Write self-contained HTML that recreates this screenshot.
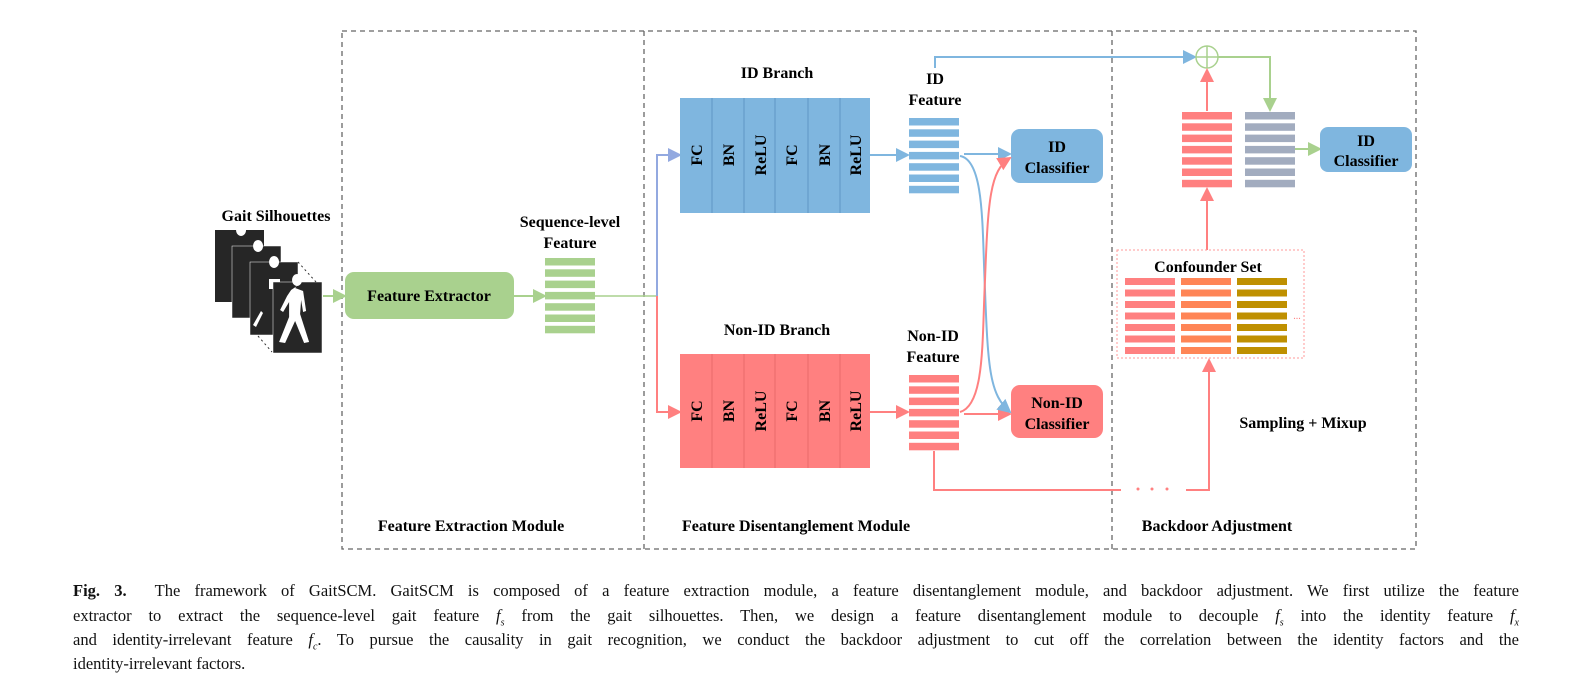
<!DOCTYPE html>
<html><head><meta charset="utf-8"><style>
body{margin:0;background:#fff;width:1593px;height:685px;overflow:hidden;position:relative}
svg{position:absolute;left:0;top:0}
.cap{position:absolute;left:73px;width:1446px;font-family:"Liberation Serif",serif;font-size:16.5px;color:#111;text-align:justify;text-align-last:justify;white-space:nowrap;line-height:20px}
.cap.last{text-align-last:left}
</style></head><body>
<svg width="1593" height="685" viewBox="0 0 1593 685" font-family="Liberation Serif, serif" font-weight="bold">
<defs>
<marker id="ar" markerWidth="14" markerHeight="14" refX="12" refY="7" orient="auto" markerUnits="userSpaceOnUse"><path d="M0,0 L14,7 L0,14z" fill="#ff8080"/></marker>
<marker id="abl" markerWidth="14" markerHeight="14" refX="12" refY="7" orient="auto" markerUnits="userSpaceOnUse"><path d="M0,0 L14,7 L0,14z" fill="#7fb6df"/></marker>
<marker id="ag" markerWidth="14" markerHeight="14" refX="12" refY="7" orient="auto" markerUnits="userSpaceOnUse"><path d="M0,0 L14,7 L0,14z" fill="#a9d18e"/></marker>
<marker id="ap" markerWidth="14" markerHeight="14" refX="12" refY="7" orient="auto" markerUnits="userSpaceOnUse"><path d="M0,0 L14,7 L0,14z" fill="#93a9e0"/></marker>
</defs>
<rect x="342" y="31" width="1074" height="518" fill="none" stroke="#666" stroke-width="1.3" stroke-dasharray="5,4"/>
<line x1="644" y1="31" x2="644" y2="549" stroke="#666" stroke-width="1.3" stroke-dasharray="5,4"/>
<line x1="1112" y1="31" x2="1112" y2="549" stroke="#666" stroke-width="1.3" stroke-dasharray="5,4"/>

<g>
<rect x="215" y="230" width="49" height="72" fill="#262626"/>
<path d="M241,236 a5,6 0 1,1 0.1,0 M236,247 h11 v10 h-11z" fill="#fff"/>
<rect x="232" y="246" width="49" height="72" fill="#262626" stroke="#fff" stroke-width="0.5"/>
<path d="M258,252 a5,6 0 1,1 0.1,0 M253,263 h11 v10 h-11z" fill="#fff"/>
<rect x="250" y="262" width="48" height="73" fill="#262626" stroke="#fff" stroke-width="0.5"/>
<path d="M274,268 a5,6 0 1,1 0.1,0 M269,279 h11 v10 h-11z M253,325 l8,-14 l2,2 l-7,14z" fill="#fff"/>
<rect x="273" y="282" width="49" height="71" fill="#262626" stroke="#fff" stroke-width="0.5"/>
<path d="M297,286 a5,6 0 1,1 0.1,0 l-2,2 l8,3 l3,20 l-3,1 l-2,-12 l-1,14 l9,28 l-5,1 l-9,-22 l-10,22 l-6,-1 l10,-25 l0,-15 l-6,10 l-3,-2 l7,-14 l4,-6z" fill="#fff"/>
<path d="M298,262 l18,20 M258,336 l14,16" stroke="#333" stroke-dasharray="2,3"/>
</g>
<text x="276" y="221" font-size="16" text-anchor="middle">Gait Silhouettes</text>
<line x1="323" y1="296" x2="345" y2="296" stroke="#a9d18e" stroke-width="2" marker-end="url(#ag)"/>
<rect x="345" y="272" width="169" height="47" rx="9" fill="#a9d18e"/>
<text x="429" y="301" font-size="16" text-anchor="middle">Feature Extractor</text>
<line x1="514" y1="296" x2="545" y2="296" stroke="#a9d18e" stroke-width="2" marker-end="url(#ag)"/>
<text x="570" y="227" font-size="16" text-anchor="middle">Sequence-level</text>
<text x="570" y="248" font-size="16" text-anchor="middle">Feature</text>
<g fill="#a9d18e">
<rect x="545" y="258" width="50" height="7.5"/><rect x="545" y="269.3" width="50" height="7.5"/><rect x="545" y="280.6" width="50" height="7.5"/><rect x="545" y="291.9" width="50" height="7.5"/><rect x="545" y="303.2" width="50" height="7.5"/><rect x="545" y="314.5" width="50" height="7.5"/><rect x="545" y="325.8" width="50" height="7.5"/>
</g>
<line x1="595" y1="296" x2="657" y2="296" stroke="#a9d18e" stroke-width="1.5"/>
<polyline points="657,296 657,155 680,155" fill="none" stroke="#93a9e0" stroke-width="2" marker-end="url(#ap)"/>
<polyline points="657,296 657,412 680,412" fill="none" stroke="#ff8080" stroke-width="2" marker-end="url(#ar)"/>

<text x="777" y="78" font-size="16" text-anchor="middle">ID Branch</text>
<rect x="680" y="98" width="190" height="115" fill="#7fb6df"/>
<g stroke="#5f97c4" stroke-width="1"><line x1="712" y1="98" x2="712" y2="213"/><line x1="744" y1="98" x2="744" y2="213"/><line x1="775" y1="98" x2="775" y2="213"/><line x1="808" y1="98" x2="808" y2="213"/><line x1="840" y1="98" x2="840" y2="213"/></g>
<g font-size="16" text-anchor="middle">
<text transform="translate(702,155) rotate(-90)">FC</text><text transform="translate(734,155) rotate(-90)">BN</text><text transform="translate(766,155) rotate(-90)">ReLU</text><text transform="translate(797,155) rotate(-90)">FC</text><text transform="translate(830,155) rotate(-90)">BN</text><text transform="translate(861,155) rotate(-90)">ReLU</text>
</g>
<text x="777" y="335" font-size="16" text-anchor="middle">Non-ID Branch</text>
<rect x="680" y="354" width="190" height="114" fill="#ff8080"/>
<g stroke="#e86a6a" stroke-width="1"><line x1="712" y1="354" x2="712" y2="468"/><line x1="744" y1="354" x2="744" y2="468"/><line x1="775" y1="354" x2="775" y2="468"/><line x1="808" y1="354" x2="808" y2="468"/><line x1="840" y1="354" x2="840" y2="468"/></g>
<g font-size="16" text-anchor="middle">
<text transform="translate(702,411) rotate(-90)">FC</text><text transform="translate(734,411) rotate(-90)">BN</text><text transform="translate(766,411) rotate(-90)">ReLU</text><text transform="translate(797,411) rotate(-90)">FC</text><text transform="translate(830,411) rotate(-90)">BN</text><text transform="translate(861,411) rotate(-90)">ReLU</text>
</g>
<line x1="870" y1="155" x2="908" y2="155" stroke="#7fb6df" stroke-width="2" marker-end="url(#abl)"/>
<line x1="870" y1="412" x2="908" y2="412" stroke="#ff8080" stroke-width="2" marker-end="url(#ar)"/>

<text x="935" y="84" font-size="16" text-anchor="middle">ID</text>
<text x="935" y="105" font-size="16" text-anchor="middle">Feature</text>
<g fill="#7fb6df">
<rect x="909" y="118" width="50" height="7.5"/><rect x="909" y="129.3" width="50" height="7.5"/><rect x="909" y="140.6" width="50" height="7.5"/><rect x="909" y="151.9" width="50" height="7.5"/><rect x="909" y="163.2" width="50" height="7.5"/><rect x="909" y="174.5" width="50" height="7.5"/><rect x="909" y="185.8" width="50" height="7.5"/>
</g>
<text x="933" y="341" font-size="16" text-anchor="middle">Non-ID</text>
<text x="933" y="362" font-size="16" text-anchor="middle">Feature</text>
<g fill="#ff8080">
<rect x="909" y="375" width="50" height="7.5"/><rect x="909" y="386.3" width="50" height="7.5"/><rect x="909" y="397.6" width="50" height="7.5"/><rect x="909" y="408.9" width="50" height="7.5"/><rect x="909" y="420.2" width="50" height="7.5"/><rect x="909" y="431.5" width="50" height="7.5"/><rect x="909" y="442.8" width="50" height="7.5"/>
</g>
<rect x="1011" y="129" width="92" height="54" rx="9" fill="#7fb6df"/>
<text x="1057" y="152" font-size="16" text-anchor="middle">ID</text>
<text x="1057" y="173" font-size="16" text-anchor="middle">Classifier</text>
<rect x="1011" y="385" width="92" height="53" rx="9" fill="#ff8080"/>
<text x="1057" y="408" font-size="16" text-anchor="middle">Non-ID</text>
<text x="1057" y="429" font-size="16" text-anchor="middle">Classifier</text>
<line x1="964" y1="154" x2="1010" y2="154" stroke="#7fb6df" stroke-width="2" marker-end="url(#abl)"/>
<line x1="964" y1="414" x2="1010" y2="414" stroke="#ff8080" stroke-width="2" marker-end="url(#ar)"/>
<path d="M960,156 C985,160 982,230 985,290 C988,370 990,395 1010,412" fill="none" stroke="#7fb6df" stroke-width="2" marker-end="url(#abl)"/>
<path d="M960,412 C985,405 982,340 985,280 C988,200 990,170 1010,158" fill="none" stroke="#ff8080" stroke-width="2" marker-end="url(#ar)"/>

<polyline points="935,68 935,57 1195,57" fill="none" stroke="#7fb6df" stroke-width="2" marker-end="url(#abl)"/>
<circle cx="1207" cy="57" r="11" fill="#fff" stroke="#a9d18e" stroke-width="1.5"/>
<line x1="1196" y1="57" x2="1218" y2="57" stroke="#a9d18e" stroke-width="1.5"/>
<line x1="1207" y1="46" x2="1207" y2="68" stroke="#a9d18e" stroke-width="1.5"/>
<polyline points="1218,57 1270,57 1270,110" fill="none" stroke="#a9d18e" stroke-width="2" marker-end="url(#ag)"/>
<line x1="1207" y1="111" x2="1207" y2="70" stroke="#ff8080" stroke-width="2" marker-end="url(#ar)"/>
<g fill="#ff8080">
<rect x="1182" y="112" width="50" height="7.5"/><rect x="1182" y="123.3" width="50" height="7.5"/><rect x="1182" y="134.6" width="50" height="7.5"/><rect x="1182" y="145.9" width="50" height="7.5"/><rect x="1182" y="157.2" width="50" height="7.5"/><rect x="1182" y="168.5" width="50" height="7.5"/><rect x="1182" y="179.8" width="50" height="7.5"/>
</g>
<g fill="#a2acbf">
<rect x="1245" y="112" width="50" height="7.5"/><rect x="1245" y="123.3" width="50" height="7.5"/><rect x="1245" y="134.6" width="50" height="7.5"/><rect x="1245" y="145.9" width="50" height="7.5"/><rect x="1245" y="157.2" width="50" height="7.5"/><rect x="1245" y="168.5" width="50" height="7.5"/><rect x="1245" y="179.8" width="50" height="7.5"/>
</g>
<line x1="1295" y1="149" x2="1320" y2="149" stroke="#a9d18e" stroke-width="2" marker-end="url(#ag)"/>
<rect x="1320" y="127" width="92" height="45" rx="8" fill="#7fb6df"/>
<text x="1366" y="146" font-size="16" text-anchor="middle">ID</text>
<text x="1366" y="166" font-size="16" text-anchor="middle">Classifier</text>
<line x1="1207" y1="250" x2="1207" y2="189" stroke="#ff8080" stroke-width="2" marker-end="url(#ar)"/>

<rect x="1117" y="250" width="187" height="108" fill="none" stroke="#ff9a9a" stroke-width="1" stroke-dasharray="2,2"/>
<text x="1208" y="272" font-size="16" text-anchor="middle">Confounder Set</text>
<g fill="#ff8080"><rect x="1125" y="278" width="50" height="7"/><rect x="1125" y="289.5" width="50" height="7"/><rect x="1125" y="301" width="50" height="7"/><rect x="1125" y="312.5" width="50" height="7"/><rect x="1125" y="324" width="50" height="7"/><rect x="1125" y="335.5" width="50" height="7"/><rect x="1125" y="347" width="50" height="7"/></g>
<g fill="#ff8556"><rect x="1181" y="278" width="50" height="7"/><rect x="1181" y="289.5" width="50" height="7"/><rect x="1181" y="301" width="50" height="7"/><rect x="1181" y="312.5" width="50" height="7"/><rect x="1181" y="324" width="50" height="7"/><rect x="1181" y="335.5" width="50" height="7"/><rect x="1181" y="347" width="50" height="7"/></g>
<g fill="#bf9000"><rect x="1237" y="278" width="50" height="7"/><rect x="1237" y="289.5" width="50" height="7"/><rect x="1237" y="301" width="50" height="7"/><rect x="1237" y="312.5" width="50" height="7"/><rect x="1237" y="324" width="50" height="7"/><rect x="1237" y="335.5" width="50" height="7"/><rect x="1237" y="347" width="50" height="7"/></g>
<text x="1297" y="319" font-size="10" fill="#ff8080" text-anchor="middle" font-weight="normal">...</text>

<polyline points="934,451 934,490 1121,490" fill="none" stroke="#ff8080" stroke-width="2"/>
<g fill="#ff8080"><circle cx="1138" cy="489" r="1.5"/><circle cx="1152" cy="489" r="1.5"/><circle cx="1167" cy="489" r="1.5"/></g>
<polyline points="1186,490 1209,490 1209,360" fill="none" stroke="#ff8080" stroke-width="2" marker-end="url(#ar)"/>
<text x="1303" y="428" font-size="16" text-anchor="middle">Sampling + Mixup</text>

<text x="471" y="531" font-size="16" text-anchor="middle">Feature Extraction Module</text>
<text x="796" y="531" font-size="16" text-anchor="middle">Feature Disentanglement Module</text>
<text x="1217" y="531" font-size="16" text-anchor="middle">Backdoor Adjustment</text>
</svg>
<div class="cap" style="top:581px"><b>Fig. 3.</b>&nbsp; The framework of GaitSCM. GaitSCM is composed of a feature extraction module, a feature disentanglement module, and backdoor adjustment. We first utilize the feature</div>
<div class="cap" style="top:606px">extractor to extract the sequence-level gait feature <i>f<sub style="font-size:10px">s</sub></i> from the gait silhouettes. Then, we design a feature disentanglement module to decouple <i>f<sub style="font-size:10px">s</sub></i> into the identity feature <i>f<sub style="font-size:10px">x</sub></i></div>
<div class="cap" style="top:630px">and identity-irrelevant feature <i>f<sub style="font-size:10px">c</sub></i>. To pursue the causality in gait recognition, we conduct the backdoor adjustment to cut off the correlation between the identity factors and the</div>
<div class="cap last" style="top:654px">identity-irrelevant factors.</div>
</body></html>
